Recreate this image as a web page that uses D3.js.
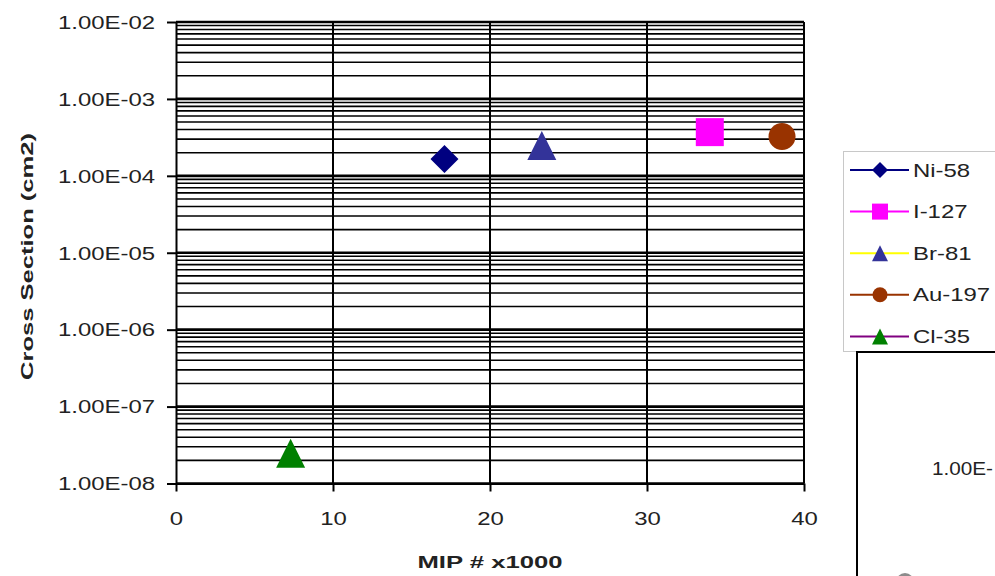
<!DOCTYPE html>
<html>
<head>
<meta charset="utf-8">
<script src="https://cdnjs.cloudflare.com/ajax/libs/d3/7.8.5/d3.min.js"></script>
<style>
	body { margin: 0; background: #fff; }
	svg { display: block; font-family: "Liberation Sans", Arial, sans-serif; }
</style>
</head>
<body>
<div id="vis"></div>
<script>
// One point per isotope
var seriesNames = ['Ni-58', 'I-127', 'Br-81', 'Au-197', 'Cl-35'];
var mipValues = [17.1, 34.0, 23.3, 38.6, 7.3];                       // MIP # x1000
var crossSections = [1.66e-4, 3.7e-4, 2.48e-4, 3.25e-4, 2.48e-8];   // cm2
var xTicks = [0, 10, 20, 30, 40];
var yTicks = [1e-8, 1e-7, 1e-6, 1e-5, 1e-4, 1e-3, 1e-2];

// Excel style markers
var markerShapes = ['diamond', 'square', 'triangle', 'circle', 'triangle'];
var markerColors = ['#000080', '#ff00ff', '#333399', '#993300', '#008000'];
var lineColors = ['#000080', '#ff00ff', '#ffff00', '#993300', '#800080'];

var textStretch = 1.33;

buildChart();

function buildChart() {
	var width = 995, height = 576;
	var plot = {left: 176, right: 804, top: 22, bottom: 483.5};

	var svg = d3.select('#vis')
		.append('svg')
		.attr('width', width)
		.attr('height', height);

	var x = d3.scaleLinear().domain([0, 40]).range([plot.left, plot.right]);
	var y = d3.scaleLog().domain([1e-8, 1e-2]).range([plot.bottom, plot.top]);

	drawGrid(svg, x, y);
	drawAxes(svg, x, y, plot);
	drawPoints(svg, x, y);
	drawLegend(svg);
	drawSecondChart(svg);
}

// Minor lines for every 1..9 step of each decade, decades heavier
function drawGrid(svg, x, y) {
	var minors = [];
	for (var k = -8; k < -2; k++) {
		for (var m = 2; m <= 9; m++) {
			minors.push(m * Math.pow(10, k));
		}
	}
	var grid = svg.append('g');

	grid.selectAll('.minor')
		.data(minors)
		.enter()
		.append('line')
		.attr('x1', x(0)).attr('x2', x(40))
		.attr('y1', function(d) { return y(d); })
		.attr('y2', function(d) { return y(d); })
		.style('stroke', '#000')
		.style('stroke-width', 1.6);

	grid.selectAll('.major')
		.data(yTicks)
		.enter()
		.append('line')
		.attr('x1', x(0)).attr('x2', x(40))
		.attr('y1', function(d) { return y(d); })
		.attr('y2', function(d) { return y(d); })
		.style('stroke', '#000')
		.style('stroke-width', 2.6);

	grid.selectAll('.vert')
		.data(xTicks.slice(1))
		.enter()
		.append('line')
		.attr('x1', function(d) { return x(d); })
		.attr('x2', function(d) { return x(d); })
		.attr('y1', y(1e-2)).attr('y2', y(1e-8))
		.style('stroke', '#000')
		.style('stroke-width', 2);
}

function expLabel(d) {
	var e = Math.round(Math.log10(d));
	var s = String(Math.abs(e));
	if (s.length < 2) s = '0' + s;
	return '1.00E' + (e < 0 ? '-' : '+') + s;
}

function drawAxes(svg, x, y, plot) {
	var yAxis = svg.append('g')
		.attr('transform', 'translate(' + plot.left + ',0)')
		.call(d3.axisLeft(y).tickValues(yTicks).tickFormat(expLabel).tickSize(9).tickSizeOuter(0));

	yAxis.selectAll('text')
		.attr('x', -21 / textStretch)
		.attr('dy', '0.35em')
		.attr('transform', 'scale(' + textStretch + ',1)')
		.style('font-size', '18px')
		.style('font-family', '"Liberation Sans", Arial, sans-serif')
		.style('fill', '#222');

	var xAxis = svg.append('g')
		.attr('transform', 'translate(0,' + plot.bottom + ')')
		.call(d3.axisBottom(x).tickValues(xTicks).tickSize(8).tickSizeOuter(0));

	xAxis.selectAll('text')
		.attr('y', 42)
		.attr('dy', 0)
		.attr('transform', 'scale(' + textStretch + ',1)')
		.style('font-size', '18px')
		.style('font-family', '"Liberation Sans", Arial, sans-serif')
		.style('fill', '#222');

	[yAxis, xAxis].forEach(function(ax) {
		ax.selectAll('path, line').style('stroke', '#000').style('stroke-width', 2);
	});

	svg.append('text')
		.attr('x', (plot.left + plot.right) / 2)
		.attr('y', 568)
		.attr('text-anchor', 'middle')
		.attr('textLength', 145)
		.attr('lengthAdjust', 'spacingAndGlyphs')
		.style('font-size', '17px')
		.style('font-weight', 'bold')
		.style('fill', '#222')
		.text('MIP # x1000');

	svg.append('text')
		.attr('transform', 'translate(33,256.5) rotate(-90)')
		.attr('text-anchor', 'middle')
		.attr('textLength', 247)
		.attr('lengthAdjust', 'spacingAndGlyphs')
		.style('font-size', '17px')
		.style('font-weight', 'bold')
		.style('fill', '#222')
		.text('Cross Section (cm2)');
}

// Path for a marker centred on 0,0 with half size r
function markerPath(shape, r) {
	if (shape === 'diamond') {
		return 'M0,' + (-r) + 'L' + r + ',0L0,' + r + 'L' + (-r) + ',0Z';
	} else if (shape === 'square') {
		return 'M' + (-r) + ',' + (-r) + 'h' + 2 * r + 'v' + 2 * r + 'h' + (-2 * r) + 'Z';
	} else if (shape === 'triangle') {
		return 'M0,' + (-r) + 'L' + r + ',' + r + 'L' + (-r) + ',' + r + 'Z';
	}
	return 'M' + r + ',0A' + r + ',' + r + ' 0 1,1 ' + (-r) + ',0A' + r + ',' + r + ' 0 1,1 ' + r + ',0Z';
}

function drawPoints(svg, x, y) {
	var sizes = {diamond: 14, square: 14, triangle: 14.5, circle: 13.5};
	svg.append('g')
		.selectAll('path')
		.data(seriesNames)
		.enter()
		.append('path')
		.attr('transform', function(d, i) {
			return 'translate(' + x(mipValues[i]) + ',' + y(crossSections[i]) + ')';
		})
		.attr('d', function(d, i) { return markerPath(markerShapes[i], sizes[markerShapes[i]]); })
		.style('fill', function(d, i) { return markerColors[i]; });
}

function drawLegend(svg) {
	var legend = svg.append('g');
	legend.append('rect')
		.attr('x', 843.5).attr('y', 151.5)
		.attr('width', 200).attr('height', 200)
		.style('fill', '#fff')
		.style('stroke', '#c8c8c8');

	var item = legend.selectAll('.item')
		.data(seriesNames)
		.enter()
		.append('g')
		.attr('transform', function(d, i) { return 'translate(0,' + (170 + i * 41.6) + ')'; });

	item.append('line')
		.attr('x1', 850).attr('x2', 909)
		.style('stroke', function(d, i) { return lineColors[i]; })
		.style('stroke-width', 2);

	item.append('path')
		.attr('transform', 'translate(880,0)')
		.attr('d', function(d, i) { return markerPath(markerShapes[i], markerShapes[i] === 'circle' ? 7.5 : 8); })
		.style('fill', function(d, i) { return markerColors[i]; });

	item.append('text')
		.attr('transform', 'translate(913,6.5) scale(' + textStretch + ',1)')
		.style('font-size', '18px')
		.style('fill', '#222')
		.text(function(d) { return d; });
}

// Edge of the next chart, cut off by the window
function drawSecondChart(svg) {
	svg.append('rect')
		.attr('x', 857).attr('y', 352)
		.attr('width', 300).attr('height', 300)
		.style('fill', '#fff')
		.style('stroke', '#000')
		.style('stroke-width', 2);

	svg.append('text')
		.attr('x', 932).attr('y', 475)
		.attr('textLength', 61)
		.attr('lengthAdjust', 'spacingAndGlyphs')
		.style('font-size', '18px')
		.style('fill', '#222')
		.text('1.00E-');

	svg.append('circle')
		.attr('cx', 905).attr('cy', 582).attr('r', 9)
		.style('fill', '#8c8c8c');
}
</script>
</body>
</html>
